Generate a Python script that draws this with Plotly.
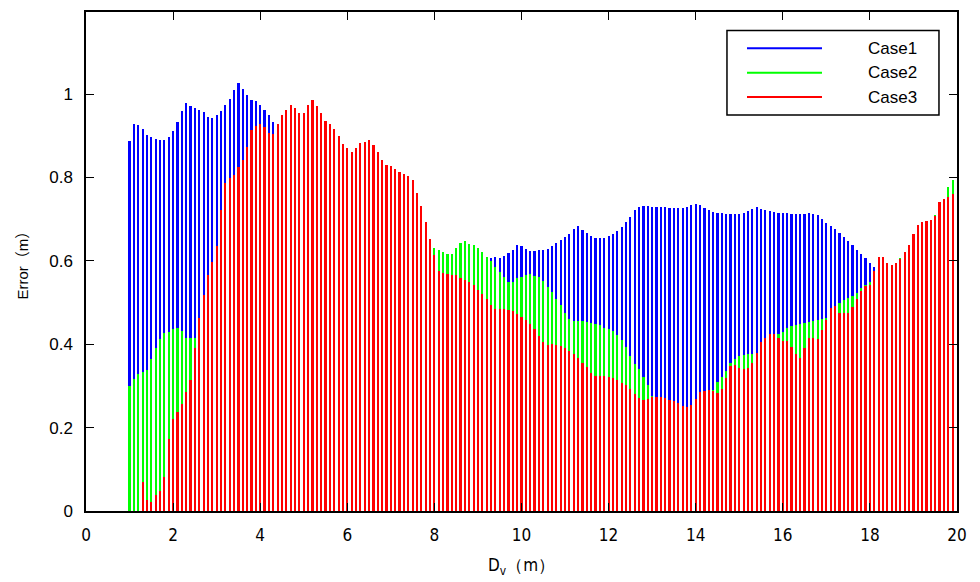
import plotly.graph_objects as go

# Sampling positions D_v (m)
D_V = [round(1.0 + 0.1 * i, 1) for i in range(190)]

CASE1 = [
    0.888, 0.929, 0.927, 0.916, 0.903, 0.896, 0.892, 0.889, 0.890, 0.897,
    0.912, 0.934, 0.959, 0.978, 0.971, 0.967, 0.961, 0.957, 0.945, 0.943,
    0.950, 0.959, 0.974, 0.989, 1.010, 1.026, 1.012, 0.997, 0.987, 0.983,
    0.975, 0.963, 0.949, 0.933,
    0.915, 0.905, 0.895, 0.885, 0.875, 0.865, 0.855, 0.845, 0.835, 0.825,
    0.815, 0.805, 0.795, 0.785, 0.775, 0.765, 0.755, 0.745, 0.735, 0.725,
    0.715, 0.705, 0.695, 0.685, 0.675, 0.665, 0.655, 0.645, 0.635, 0.625,
    0.618, 0.612, 0.606, 0.600, 0.596, 0.594, 0.592, 0.592, 0.593, 0.594,
    0.596, 0.598, 0.600, 0.602, 0.604, 0.605, 0.606, 0.607, 0.607,
    0.608, 0.609, 0.608, 0.612, 0.618, 0.627, 0.638, 0.636, 0.628, 0.623,
    0.623, 0.625, 0.626, 0.629, 0.636, 0.643, 0.649, 0.657, 0.665, 0.676,
    0.684, 0.675, 0.666, 0.660, 0.655, 0.655, 0.656, 0.660, 0.665, 0.672,
    0.681, 0.693, 0.706, 0.722, 0.730, 0.731, 0.731, 0.730, 0.730, 0.730,
    0.729, 0.728, 0.728, 0.728, 0.728,
    0.730, 0.733, 0.737, 0.734, 0.727, 0.722, 0.718, 0.715, 0.714, 0.713,
    0.713, 0.713, 0.713, 0.715, 0.719, 0.724, 0.729, 0.725, 0.722, 0.720,
    0.718, 0.716, 0.715, 0.714, 0.713, 0.713, 0.713, 0.713, 0.714, 0.713,
    0.709, 0.701, 0.692, 0.683, 0.676, 0.667, 0.658, 0.648, 0.637, 0.627,
    0.617, 0.606, 0.596, 0.585,
    0.575, 0.568, 0.562, 0.558, 0.556, 0.556, 0.558, 0.562, 0.568, 0.575,
    0.582, 0.590, 0.598, 0.606, 0.614, 0.622, 0.630, 0.638,
]

CASE2 = [
    0.300, 0.317, 0.328, 0.333, 0.339, 0.364, 0.391, 0.413, 0.426, 0.430,
    0.437, 0.439, 0.432, 0.415, 0.415, 0.416,
    0.420, 0.425, 0.430, 0.436, 0.442, 0.448, 0.455, 0.462, 0.470, 0.478,
    0.486, 0.494, 0.502, 0.510, 0.518, 0.526, 0.534, 0.542, 0.550, 0.558,
    0.566, 0.574, 0.582, 0.590, 0.598, 0.605, 0.612, 0.618, 0.624, 0.630,
    0.635, 0.640, 0.644, 0.648, 0.651, 0.654, 0.656, 0.658, 0.659, 0.660,
    0.660, 0.659, 0.658, 0.656, 0.654, 0.651, 0.648, 0.645, 0.642, 0.639,
    0.636, 0.634, 0.633, 0.632,
    0.632, 0.627, 0.621, 0.617, 0.616, 0.631, 0.642, 0.647, 0.641, 0.638,
    0.632, 0.622, 0.610, 0.599, 0.586, 0.573, 0.562, 0.549, 0.550, 0.558,
    0.562, 0.567, 0.568, 0.564, 0.561, 0.551, 0.538, 0.525, 0.509, 0.493,
    0.474, 0.460, 0.456, 0.456, 0.456, 0.453, 0.451, 0.449, 0.445, 0.439,
    0.436, 0.432, 0.422, 0.410, 0.394, 0.372, 0.352, 0.341, 0.322, 0.303,
    0.276, 0.270, 0.268, 0.265, 0.262, 0.258, 0.252, 0.246, 0.244, 0.250,
    0.262, 0.272, 0.280, 0.286, 0.291, 0.309, 0.322, 0.337, 0.356, 0.365,
    0.371, 0.374, 0.376, 0.377, 0.378, 0.385, 0.395, 0.405, 0.415, 0.424,
    0.430, 0.438, 0.444, 0.446, 0.448, 0.452, 0.454, 0.456, 0.458, 0.460,
    0.462, 0.470, 0.486, 0.499, 0.505, 0.510, 0.515, 0.523, 0.534, 0.542,
    0.549, 0.555, 0.575, 0.590, 0.592, 0.588, 0.590, 0.607, 0.615, 0.630,
    0.655, 0.678, 0.688, 0.691, 0.694, 0.710, 0.735, 0.745, 0.778, 0.794,
]

CASE3 = [
    0.000, 0.000, 0.000, 0.069, 0.026, 0.021, 0.038, 0.048, 0.081, 0.172,
    0.220, 0.237, 0.257, 0.286, 0.315, 0.392, 0.464, 0.518, 0.567, 0.597,
    0.636, 0.721, 0.788, 0.798, 0.807, 0.824, 0.842, 0.874, 0.914, 0.924,
    0.928, 0.920, 0.907, 0.905, 0.929, 0.951, 0.962, 0.973, 0.967, 0.955,
    0.955, 0.974, 0.986, 0.971, 0.954, 0.935, 0.929, 0.917, 0.899, 0.881,
    0.870, 0.862, 0.871, 0.882, 0.885, 0.889, 0.878, 0.862, 0.843, 0.831,
    0.828, 0.821, 0.814, 0.808, 0.804, 0.794, 0.762, 0.731, 0.693, 0.652,
    0.613, 0.575, 0.570, 0.568, 0.567, 0.565, 0.560, 0.555, 0.549, 0.541,
    0.531, 0.521, 0.508, 0.494, 0.484, 0.484, 0.484, 0.481, 0.480, 0.473,
    0.466, 0.458, 0.449, 0.436, 0.420, 0.405, 0.399, 0.400, 0.398, 0.395,
    0.390, 0.383, 0.376, 0.367, 0.356, 0.345, 0.331, 0.325, 0.325, 0.324,
    0.321, 0.318, 0.314, 0.308, 0.302, 0.292, 0.281, 0.270, 0.267, 0.269,
    0.273, 0.274, 0.273, 0.270, 0.267, 0.265, 0.258, 0.251, 0.249, 0.254,
    0.269, 0.285, 0.289, 0.290, 0.289, 0.282, 0.293, 0.320, 0.348, 0.351,
    0.342, 0.340, 0.342, 0.354, 0.380, 0.405, 0.415, 0.424, 0.424, 0.416,
    0.409, 0.408, 0.394, 0.376, 0.368, 0.391, 0.414, 0.414, 0.413, 0.434,
    0.458, 0.488, 0.491, 0.476, 0.476, 0.476, 0.489, 0.508, 0.527, 0.539,
    0.542, 0.575, 0.610, 0.609, 0.596, 0.591, 0.594, 0.605, 0.621, 0.637,
    0.664, 0.686, 0.693, 0.695, 0.697, 0.708, 0.742, 0.748, 0.754, 0.761,
]

SERIES = [("Case1", CASE1, "#0000ff"), ("Case2", CASE2, "#00ff00"), ("Case3", CASE3, "#ff0000")]
X_TICKS = [0, 2, 4, 6, 8, 10, 12, 14, 16, 18, 20]
Y_TICKS = [0, 0.2, 0.4, 0.6, 0.8, 1.0]
Y_TICK_TEXT = ["0", "0.2", "0.4", "0.6", "0.8", "1"]

for _, vals, _ in SERIES:
    assert len(vals) == len(D_V)

fig = go.Figure()
for name, vals, color in SERIES:
    fig.add_trace(go.Bar(
        x=D_V, y=vals, name=name, width=0.05,
        marker=dict(color=color, line=dict(width=0)),
        showlegend=False,
    ))

FONT = "Liberation Sans, Arial, Noto Sans CJK SC, sans-serif"
NARROW = "Liberation Sans Narrow, Arial Narrow, DejaVu Sans Condensed, Liberation Sans, sans-serif"

fig.update_layout(
    width=980, height=582,
    margin=dict(l=86, r=23, t=10, b=71),
    paper_bgcolor="white", plot_bgcolor="white",
    barmode="overlay", bargap=0,
    font=dict(family=FONT, color="black"),
)
fig.update_xaxes(
    range=[0, 20], tickvals=X_TICKS, ticks="inside", ticklen=8, tickwidth=1,
    tickcolor="black", showline=True, linecolor="black", linewidth=1.5,
    mirror="ticks", showgrid=False, zeroline=False,
    tickfont=dict(family=NARROW, size=17, color="black"), ticklabelstandoff=8,
)
fig.update_yaxes(
    range=[0, 1.197], tickvals=Y_TICKS, ticktext=Y_TICK_TEXT, ticks="inside",
    ticklen=8, tickwidth=1, tickcolor="black", showline=True, linecolor="black",
    linewidth=1.5, mirror="ticks", showgrid=False, zeroline=False,
    tickfont=dict(family=FONT, size=17, color="black"), ticklabelstandoff=8,
)

# axis titles
fig.add_annotation(
    text="Error（m）", xref="paper", yref="paper", x=0, y=0.5,
    xshift=-64, xanchor="center", yanchor="middle", textangle=-90, showarrow=False,
    font=dict(family=FONT, size=15, color="black"),
)
fig.add_annotation(
    text="D<sub>v</sub>（m）", xref="paper", yref="paper", x=0.5, y=0,
    yshift=-55, xanchor="center", yanchor="middle", showarrow=False,
    font=dict(family=NARROW, size=17, color="black"),
)

# legend box drawn in the upper-right corner
fig.add_shape(type="rect", xref="paper", yref="paper",
              x0=0.7359, x1=0.9793, y0=0.7936, y1=0.9631,
              line=dict(color="black", width=1.5), fillcolor="white", layer="above")
legend_y = [0.9272, 0.8784, 0.8295]
for (name, _, color), ly in zip(SERIES, legend_y):
    fig.add_shape(type="line", xref="paper", yref="paper",
                  x0=0.7589, x1=0.8450, y0=ly, y1=ly,
                  line=dict(color=color, width=2), layer="above")
    fig.add_annotation(text=name, xref="paper", yref="paper", x=0.8955, y=ly,
                       xanchor="left", yanchor="middle", showarrow=False,
                       font=dict(family=FONT, size=17, color="black"))

fig.write_html("out.html")
